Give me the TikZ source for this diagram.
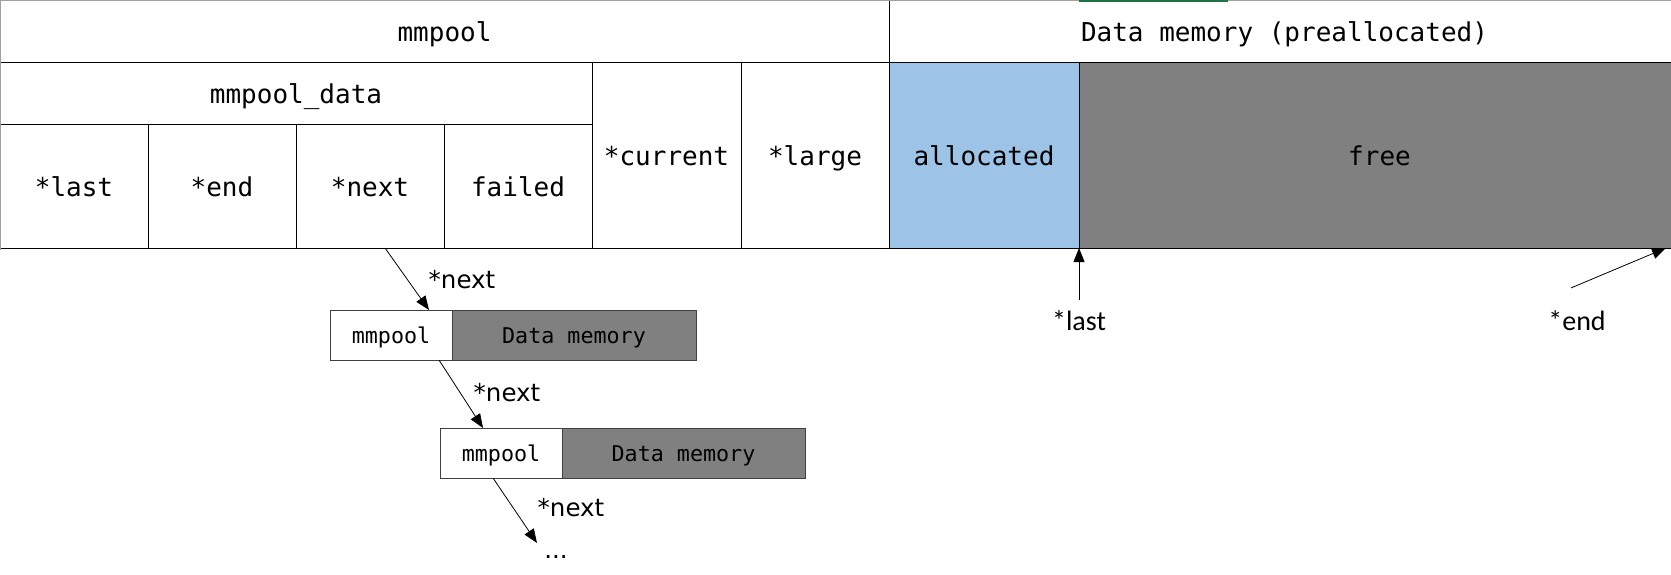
\documentclass[tikz,border=0pt]{standalone}
\usepackage{fontspec}
\setmonofont{DejaVu Sans Mono}
\newfontfamily\ptrfont{Carlito}
\newfontfamily\nextfont{DejaVu Sans}
\usetikzlibrary{positioning,arrows.meta}

\definecolor{allocblue}{HTML}{9DC3E6}
\definecolor{freegray}{HTML}{808080}
\definecolor{framegray}{HTML}{A0A0A0}
\definecolor{selgreen}{HTML}{217346}
\definecolor{boxline}{HTML}{404040}

\tikzset{
  cell/.style={draw,line width=0.9pt,rectangle,inner sep=0pt,outer sep=0pt,anchor=north west,
    text height=22pt,text depth=2pt,font=\ttfamily\fontsize{26}{30}\selectfont},
  field/.style={cell,minimum width=148pt,minimum height=124pt},
  poolbox/.style={draw=boxline,line width=0.9pt,rectangle,inner sep=0pt,outer sep=0pt,
    minimum height=50pt,text height=18pt,text depth=2pt,font=\ttfamily\fontsize{21.7}{26}\selectfont},
  ptr/.style={-{Triangle[length=14pt,width=11pt]},line width=0.8pt},
  nextlbl/.style={anchor=base,inner sep=2pt,font=\nextfont\fontsize{24.5}{29}\selectfont},
  ptrlbl/.style={anchor=base,inner sep=2pt,font=\ptrfont\fontsize{28}{33}\selectfont}
}

\begin{document}
\begin{tikzpicture}[x=1pt,y=-1pt]
  \useasboundingbox (0,0) rectangle (1671,574);
  % header row
  \node[cell,minimum width=889pt,minimum height=62pt] (pool) at (0,0) {mmpool};
  \node[cell,minimum width=791pt,minimum height=62pt] (mem) at (pool.north east) {Data memory (preallocated)};
  % mmpool_data fields
  \node[cell,minimum width=592pt,minimum height=62pt] (pooldata) at (pool.south west) {mmpool\_data};
  \node[field] (last) at (pooldata.south west) {*last};
  \node[field,right=0pt of last] (end) {*end};
  \node[field,right=0pt of end] (next) {*next};
  \node[field,right=0pt of next] (failed) {failed};
  \node[cell,minimum width=149pt,minimum height=186pt] (current) at (pooldata.north east) {*current};
  \node[cell,minimum width=148pt,minimum height=186pt,right=0pt of current] (large) {*large};
  % preallocated memory
  \node[cell,fill=allocblue,minimum width=190pt,minimum height=186pt,right=0pt of large] (alloc) {allocated};
  \node[cell,fill=freegray,minimum width=601pt,minimum height=186pt,right=0pt of alloc] (free) {free};
  % sheet frame
  \draw[framegray,line width=1.2pt] (0.6,250) -- (0.6,0.6) -- (1671,0.6);
  \draw[selgreen,line width=1.5pt] (1079,0.75) -- (1228,0.75);

  % chained pools
  \node[poolbox,anchor=north west,minimum width=122pt] (pool1) at (330,310) {mmpool};
  \node[poolbox,fill=freegray,minimum width=244pt,right=0pt of pool1] (mem1) {Data memory};
  \node[poolbox,anchor=north west,minimum width=122pt] (pool2) at (440,428) {mmpool};
  \node[poolbox,fill=freegray,minimum width=243pt,right=0pt of pool2] (mem2) {Data memory};
  \coordinate (tail) at (537,543);
  \node[nextlbl] (dots) at (556,558) {...};

  \draw[ptr] ([xshift=15pt]next.south) -- ([xshift=-23pt]pool1.north east);
  \draw[ptr] ([xshift=-13pt]pool1.south east) -- ([xshift=43pt]pool2.north west);
  \draw[ptr] ([xshift=53pt]pool2.south west) -- (tail);
  \node[nextlbl] (next1) at (462,288) {*next};
  \node[nextlbl] (next2) at (507,401) {*next};
  \node[nextlbl] (next3) at (571,516) {*next};

  % pointers into data memory
  \node[ptrlbl] (lastlbl) at (1079,330) {*last};
  \node[ptrlbl] (endlbl) at (1577,330) {*end};
  \draw[ptr] ([yshift=8pt]lastlbl.north) -- (alloc.south east);
  \draw[ptr] ([shift={(-6pt,20pt)}]endlbl.north) -- ([xshift=-14pt]free.south east);
\end{tikzpicture}
\end{document}
